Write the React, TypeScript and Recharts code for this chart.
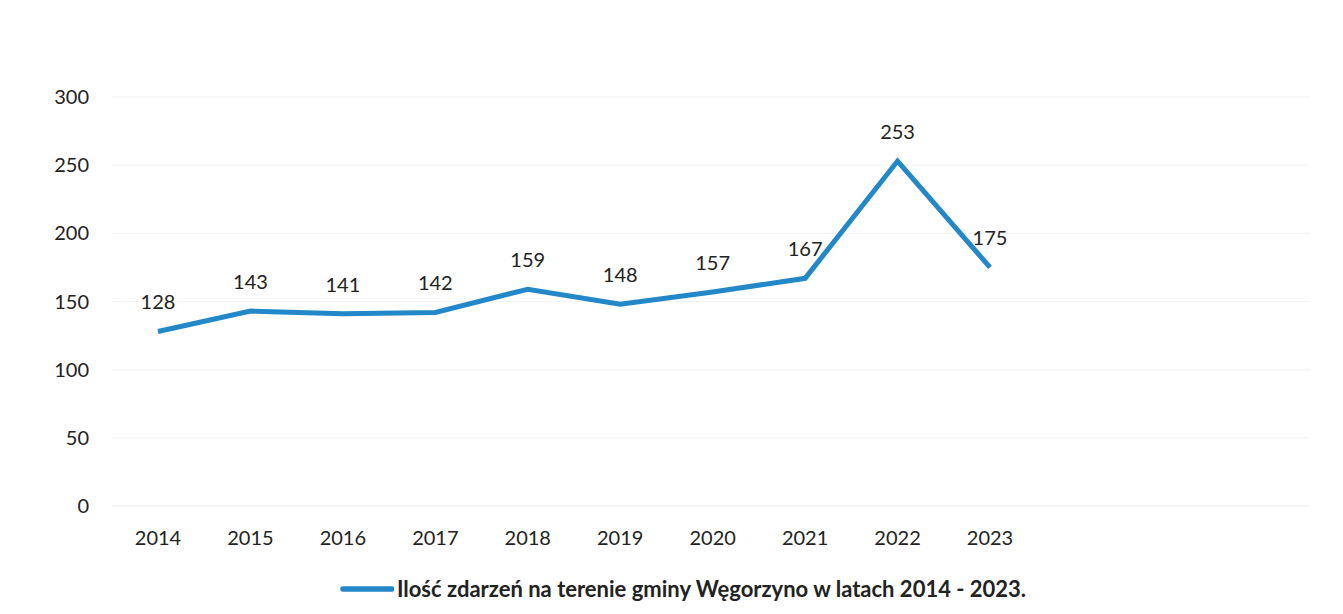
import React from "react";
import {
  LineChart,
  Line,
  XAxis,
  YAxis,
  CartesianGrid,
  Legend,
  LabelList,
} from "recharts";

const years = ["2014", "2015", "2016", "2017", "2018", "2019", "2020", "2021", "2022", "2023"];
const incidents = [128, 143, 141, 142, 159, 148, 157, 167, 253, 175];
const yTicks = [0, 50, 100, 150, 200, 250, 300];
const seriesName = "Ilość zdarzeń na terenie gminy Węgorzyno w latach 2014 - 2023.";

const chartData = years.map((year, i) => ({ year, value: incidents[i] }));

const BLUE = "#2388c8";
const FONT = "Lato, 'Open Sans', sans-serif";

const LegendContent = () => (
  <div
    style={{
      display: "flex",
      justifyContent: "center",
      alignItems: "center",
      fontFamily: FONT,
      fontWeight: 700,
      fontSize: 22,
      color: "#222",
      paddingTop: 14,
      paddingLeft: 56,
    }}
  >
    <svg width={54} height={10} style={{ marginRight: 3 }}>
      <line x1={3} y1={5} x2={52} y2={5} stroke={BLUE} strokeWidth={5.5} strokeLinecap="round" />
    </svg>
    <span>{seriesName}</span>
  </div>
);

const App: React.FC = () => {
  return (
    <div style={{ position: "fixed", left: 0, top: 0, background: "#fff" }}>
      <LineChart
        width={1343}
        height={614}
        data={chartData}
        margin={{ top: 97, right: 33, left: 0, bottom: 0 }}
      >
        <CartesianGrid vertical={false} stroke="#f3f3f3" />
        <XAxis
          dataKey="year"
          padding={{ left: 46, right: 320 }}
          axisLine={{ stroke: "#eeeeee" }}
          tickLine={false}
          tickSize={0}
          tickMargin={25}
          height={55}
          tick={{ fill: "#222", fontSize: 20, fontFamily: FONT }}
        />
        <YAxis
          domain={[0, 300]}
          ticks={yTicks}
          width={112}
          axisLine={false}
          tickLine={false}
          tickSize={0}
          tickMargin={23}
          tick={{ fill: "#222", fontSize: 20, fontFamily: FONT }}
        />
        <Legend verticalAlign="bottom" height={53} content={<LegendContent />} />
        <Line
          type="linear"
          dataKey="value"
          name={seriesName}
          stroke={BLUE}
          strokeWidth={5}
          dot={false}
          isAnimationActive={false}
        >
          <LabelList
            dataKey="value"
            position="top"
            offset={22}
            style={{ fill: "#222", fontSize: 20, fontFamily: FONT }}
          />
        </Line>
      </LineChart>
    </div>
  );
};

export default App;
